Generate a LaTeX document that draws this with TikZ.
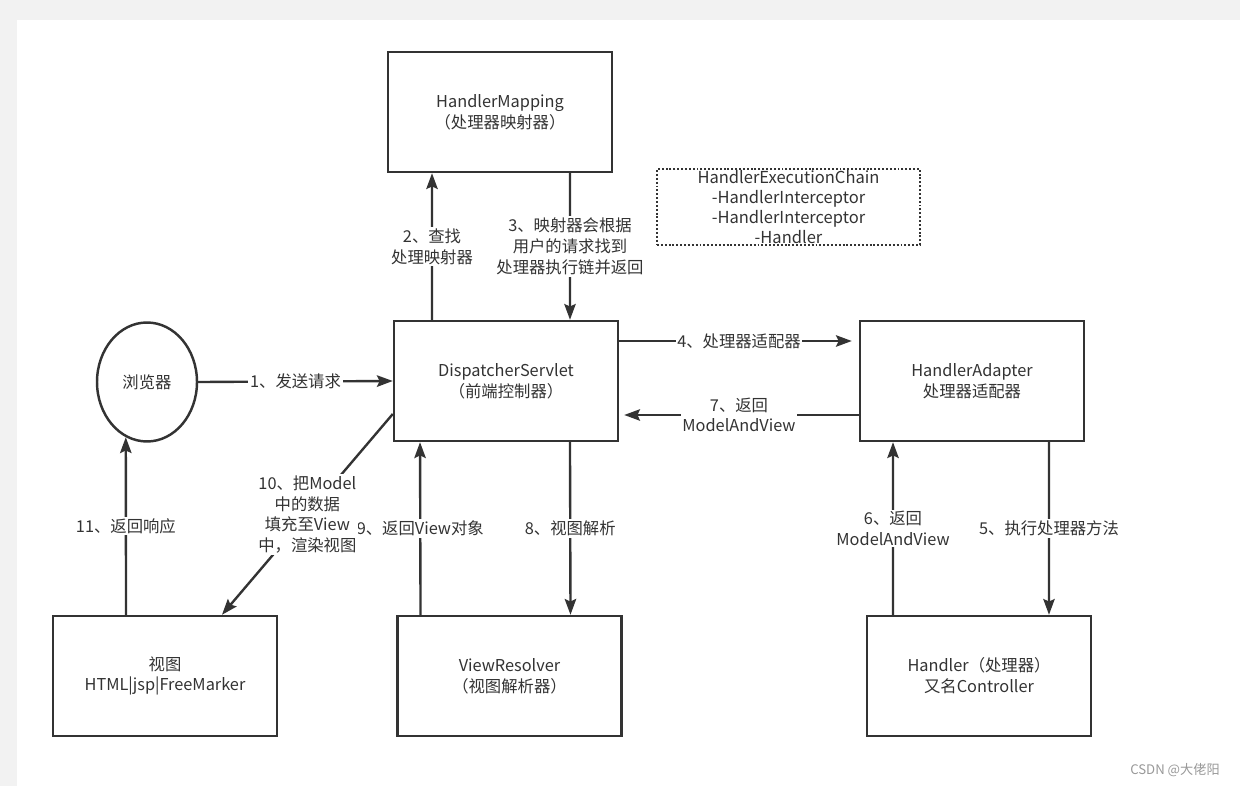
\documentclass[tikz,border=0pt]{standalone}
\usepackage{fontspec}
\setmainfont{Noto Sans CJK SC}
\usepackage{tikz}
\usetikzlibrary{arrows.meta,shapes.geometric}

\definecolor{ink}{HTML}{333333}
\definecolor{paper}{HTML}{F2F2F2}
\definecolor{mark}{HTML}{999999}

\tikzset{
  box/.style={draw=ink, line width=1.4pt, minimum width=4.48cm, minimum height=2.4cm,
              inner sep=0pt, align=center, text=ink},
  arr/.style={draw=ink, line width=1.35pt, -{Stealth[length=9pt,width=6.5pt,inset=1.5pt]}},
  lbl/.style={fill=white, text=ink, align=center, inner sep=1pt},
}

\begin{document}
\begin{tikzpicture}[x=0.02cm, y=-0.02cm, font=\fontsize{9.3pt}{11.8pt}\selectfont]

%% page
\fill[paper] (0,0) rectangle (1240,786);
\fill[white] (17,20) rectangle (1240,786);
\useasboundingbox (0,0) rectangle (1240,786);

%% components
\node[box] (hm)   at (500,112) {HandlerMapping\\（处理器映射器）};
\node[box] (ds)   at (506,381) {DispatcherServlet\\（前端控制器）};
\node[box] (ha)   at (972,381) {HandlerAdapter\\处理器适配器};
\node[box] (view) at (165,676) {视图\\HTML|jsp|FreeMarker};
\node[box] (vr)   at (509.5,676) {ViewResolver\\（视图解析器）};
\node[box] (hd)   at (979,676) {Handler（处理器）\\又名Controller};
\node[ellipse, draw=ink, line width=1.4pt, minimum width=2cm, minimum height=2.38cm,
      inner sep=0pt, text=ink] (br) at (147,382) {浏览器};

%% execution chain
\node[draw=ink, line width=1.1pt, dash pattern=on 1.1pt off 1.1pt,
      minimum width=5.26cm, minimum height=1.52cm, inner sep=0pt, align=center,
      text=ink, font=\fontsize{9.4pt}{11.3pt}\selectfont] (chain) at (788.5,207)
      {HandlerExecutionChain\\-HandlerInterceptor\\-HandlerInterceptor\\-Handler};

%% requests
\draw[arr] (br.east) -- (ds.west) node [midway, lbl] {1、发送请求};
\draw[arr] ([xshift=-1.48cm]ds.north) -- ([xshift=-1.36cm]hm.south)
      node [midway, lbl] {2、查找\\处理映射器};
\draw[arr] ([xshift=1.4cm]hm.south) -- ([xshift=1.28cm]ds.north)
      node [midway, lbl] {3、映射器会根据\\用户的请求找到\\处理器执行链并返回};
\draw[arr, shorten >=0.14cm] ([yshift=0.8cm]ds.east) -- ([yshift=0.8cm]ha.west)
      node [midway, lbl] {4、处理器适配器};
\draw[arr] ([xshift=1.54cm]ha.south) -- ([xshift=1.4cm]hd.north)
      node [midway, lbl] {5、执行处理器方法};
\draw[arr] ([xshift=-1.72cm]hd.north) -- ([xshift=-1.58cm]ha.south)
      node [midway, lbl] {6、返回\\ModelAndView};
\draw[arr, shorten >=0.1cm] ([yshift=-0.68cm]ha.west) -- ([yshift=-0.68cm]ds.east)
      node [midway, lbl] {7、返回\\ModelAndView};
\draw[arr] ([xshift=1.28cm]ds.south) -- ([xshift=1.22cm]vr.north)
      node [midway, lbl] {8、视图解析};
\draw[arr] ([xshift=-1.78cm]vr.north) -- ([xshift=-1.72cm]ds.south)
      node [midway, lbl] {9、返回View对象};
\draw[arr] ([yshift=-0.66cm]ds.west) -- ([xshift=1.14cm]view.north)
      node [midway, lbl] {10、把Model\\中的数据\\填充至View\\中，渲染视图};
\draw[arr] ([xshift=-0.78cm]view.north) -- (br.249)
      node [midway, lbl] {11、返回响应};

%% watermark
\node[text=mark, font=\fontsize{7.5pt}{9pt}\selectfont] (wm) at (1175,770) {CSDN @大佬阳};

\end{tikzpicture}
\end{document}
